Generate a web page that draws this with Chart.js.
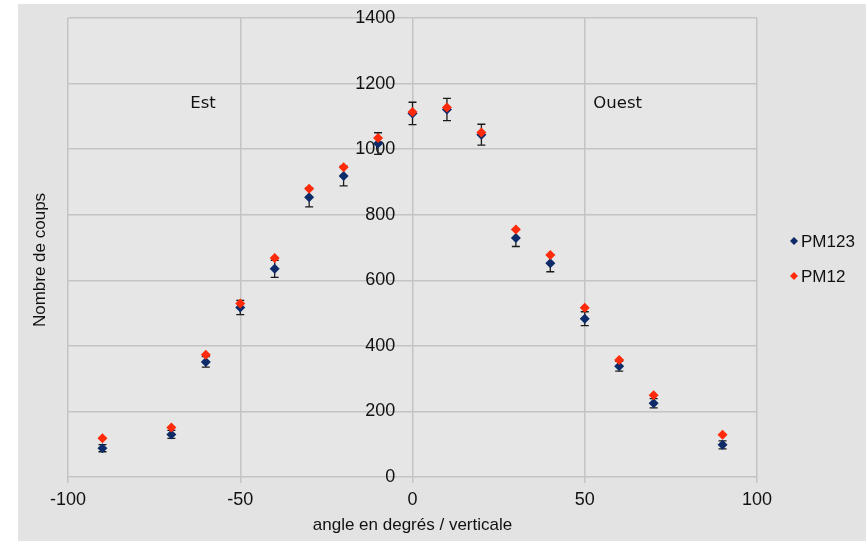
<!DOCTYPE html>
<html>
<head>
<meta charset="utf-8">
<script src="https://cdn.jsdelivr.net/npm/chart.js@4.4.1/dist/chart.umd.min.js"></script>
<style>
  html, body { margin: 0; padding: 0; background: #ffffff; }
  #wrap { width: 866px; height: 541px; }
</style>
</head>
<body>
<div id="wrap"><canvas id="chart" width="866" height="541"></canvas></div>
<script>
// angles (degrés / verticale)
const angles = [-90, -70, -60, -50, -40, -30, -20, -10, 0, 10, 20, 30, 40, 50, 60, 70, 90];
// nombre de coups
const pm123 = [88, 130, 351, 517, 635, 853, 918, 1017, 1109, 1121, 1044, 729, 652, 483, 338, 225, 98];
const pm12 = [118, 151, 373, 529, 668, 879, 945, 1034, 1113, 1127, 1051, 755, 677, 516, 357, 249, 129];
// barres d'erreur PM123
const err123 = [11, 12, 16, 22, 26, 29, 30, 33, 34, 34, 32, 26, 26, 21, 15, 14, 12];

const seriesNames = ['PM123', 'PM12'];
const seriesColors = ['#0c2b68', '#ff2a0a'];
const sideLabels = [{ text: 'Est', x: -64.5 }, { text: 'Ouest', x: 52.5 }];

const toPoints = ys => angles.map((a, i) => ({ x: a, y: ys[i] }));

// fond gris
const background = {
  id: 'background',
  beforeDraw(chart) {
    const { ctx, chartArea: a } = chart;
    ctx.save();
    ctx.fillStyle = '#ffffff';
    ctx.fillRect(0, 0, chart.width, chart.height);
    ctx.fillStyle = '#e3e3e3';
    ctx.fillRect(18, 4, chart.width - 18, chart.height - 4);
    ctx.fillStyle = '#e6e6e6';
    ctx.fillRect(a.left, a.top, a.right - a.left, a.bottom - a.top);
    ctx.restore();
  }
};

// barres d'erreur
const errorBars = {
  id: 'errorBars',
  beforeDatasetsDraw(chart) {
    const { ctx, scales: { x, y } } = chart;
    ctx.save();
    ctx.strokeStyle = '#1a1a1a';
    ctx.lineWidth = 1.3;
    angles.forEach((a, i) => {
      const px = x.getPixelForValue(a);
      const top = y.getPixelForValue(pm123[i] + err123[i]);
      const bot = y.getPixelForValue(pm123[i] - err123[i]);
      ctx.beginPath();
      ctx.moveTo(px, top); ctx.lineTo(px, bot);
      ctx.moveTo(px - 4, top); ctx.lineTo(px + 4, top);
      ctx.moveTo(px - 4, bot); ctx.lineTo(px + 4, bot);
      ctx.stroke();
    });
    ctx.restore();
  }
};

// textes: Est / Ouest, titre Y, légende
const extras = {
  id: 'extras',
  afterDraw(chart) {
    const { ctx, scales: { x, y } } = chart;
    ctx.save();
    ctx.fillStyle = '#111';
    ctx.font = '16.5px "DejaVu Sans"';
    ctx.textBaseline = 'middle';
    ctx.textAlign = 'left';
    sideLabels.forEach(s => ctx.fillText(s.text, x.getPixelForValue(s.x), y.getPixelForValue(1140)));

    ctx.font = '17px "Liberation Sans"';
    ctx.translate(40, 260);
    ctx.rotate(-Math.PI / 2);
    ctx.textAlign = 'center';
    ctx.fillText('Nombre de coups', 0, 0);
    ctx.restore();

    ctx.save();
    ctx.font = '17px "Liberation Sans"';
    ctx.textBaseline = 'middle';
    seriesNames.forEach((n, i) => {
      const cy = 241 + i * 35;
      ctx.fillStyle = seriesColors[i];
      ctx.beginPath();
      ctx.moveTo(794, cy - 4); ctx.lineTo(798, cy); ctx.lineTo(794, cy + 4); ctx.lineTo(790, cy);
      ctx.closePath(); ctx.fill();
      ctx.fillStyle = '#111';
      ctx.fillText(n, 801, cy + 1);
    });
    ctx.restore();
  }
};

new Chart(document.getElementById('chart'), {
  type: 'scatter',
  data: {
    datasets: [
      {
        label: seriesNames[0], data: toPoints(pm123), order: 1,
        pointStyle: 'rectRot', pointRadius: 5, pointHoverRadius: 5,
        backgroundColor: seriesColors[0], borderColor: seriesColors[0], borderWidth: 0
      },
      {
        label: seriesNames[1], data: toPoints(pm12), order: 0,
        pointStyle: 'rectRot', pointRadius: 5, pointHoverRadius: 5,
        backgroundColor: seriesColors[1], borderColor: seriesColors[1], borderWidth: 0
      }
    ]
  },
  options: {
    responsive: false,
    animation: false,
    layout: { padding: { left: 68, right: 109, top: 18, bottom: 0 } },
    plugins: { legend: { display: false }, tooltip: { enabled: false } },
    scales: {
      x: {
        type: 'linear', min: -100, max: 100,
        ticks: { stepSize: 50, color: '#111', font: { family: 'Liberation Sans', size: 18 }, padding: 6 },
        grid: { color: '#c4c4c4', lineWidth: 1.5, tickLength: 6 },
        border: { display: false },
        title: { display: true, text: 'angle en degrés / verticale', color: '#111',
                 font: { family: 'Liberation Sans', size: 17 }, padding: { top: 0, bottom: 5 } },
        afterFit(scale) { scale.height = 64; }
      },
      y: {
        axis: 'y', type: 'linear', min: 0, max: 1400, position: { x: -5 },
        ticks: { stepSize: 200, color: '#111', font: { family: 'Liberation Sans', size: 18 }, padding: 0,
                 callback: v => String(v) },
        grid: { color: '#c4c4c4', lineWidth: 1.5, drawTicks: false },
        border: { display: false }
      }
    }
  },
  plugins: [background, errorBars, extras]
});
</script>
</body>
</html>
